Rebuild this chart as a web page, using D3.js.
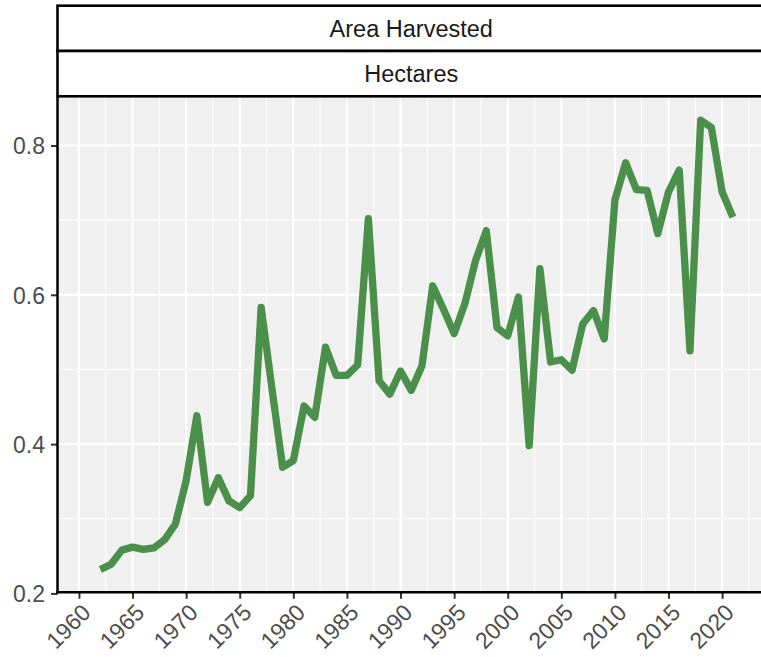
<!DOCTYPE html>
<html>
<head>
<meta charset="utf-8">
<script src="https://cdn.jsdelivr.net/npm/d3@7"></script>
<style>
  html, body { margin: 0; padding: 0; background: #ffffff; }
  svg { display: block; }
  text { font-family: "Liberation Sans", Arial, Helvetica, sans-serif; }
</style>
</head>
<body>
<svg id="chart" width="761" height="657"></svg>
<script>
// ---- data ----
const years = [1962,1963,1964,1965,1966,1967,1968,1969,1970,1971,1972,1973,1974,1975,1976,1977,1978,1979,1980,
  1981,1982,1983,1984,1985,1986,1987,1988,1989,1990,1991,1992,1993,1994,1995,1996,1997,1998,1999,2000,
  2001,2002,2003,2004,2005,2006,2007,2008,2009,2010,2011,2012,2013,2014,2015,2016,2017,2018,2019,2020,2021];
const values = [0.232,0.239,0.258,0.262,0.259,0.261,0.272,0.293,0.351,0.438,0.322,0.355,0.324,0.315,0.331,0.583,0.475,0.369,0.378,
  0.451,0.436,0.530,0.492,0.492,0.506,0.702,0.485,0.467,0.498,0.472,0.505,0.612,0.581,0.548,0.588,0.646,0.686,0.556,0.545,
  0.597,0.398,0.635,0.510,0.513,0.499,0.561,0.579,0.541,0.727,0.777,0.741,0.740,0.682,0.738,0.767,0.525,0.834,0.824,0.738,0.704];
const xTicks = [1960,1965,1970,1975,1980,1985,1990,1995,2000,2005,2010,2015,2020];
const xMinor = [1962.5,1967.5,1972.5,1977.5,1982.5,1987.5,1992.5,1997.5,2002.5,2007.5,2012.5,2017.5,2022.5];
const yTicks = [0.2,0.4,0.6,0.8];
const yMinor = [0.3,0.5,0.7];
const stripLabels = ["Area Harvested","Hectares"];

// ---- layout ----
const svg = d3.select("#chart");
const panel = {left: 57.5, right: 765, top: 97, bottom: 592.3};
const x = d3.scaleLinear().domain([1958, 2024]).range([panel.left, panel.right]);
const y = d3.scaleLinear().domain([0.2015, 0.865]).range([panel.bottom, panel.top]);

// panel background
svg.append("rect")
  .attr("x", panel.left).attr("y", panel.top)
  .attr("width", panel.right - panel.left).attr("height", panel.bottom - panel.top)
  .attr("fill", "#F0F0F0");

const grid = svg.append("g");
grid.selectAll(".ymin").data(yMinor).join("line")
  .attr("x1", panel.left).attr("x2", panel.right)
  .attr("y1", d => y(d)).attr("y2", d => y(d))
  .attr("stroke", "#ffffff").attr("stroke-width", 1.1);
grid.selectAll(".xmin").data(xMinor).join("line")
  .attr("y1", panel.top).attr("y2", panel.bottom)
  .attr("x1", d => x(d)).attr("x2", d => x(d))
  .attr("stroke", "#ffffff").attr("stroke-width", 1.1);
grid.selectAll(".ymaj").data(yTicks).join("line")
  .attr("x1", panel.left).attr("x2", panel.right)
  .attr("y1", d => y(d)).attr("y2", d => y(d))
  .attr("stroke", "#ffffff").attr("stroke-width", 2.2);
grid.selectAll(".xmaj").data(xTicks).join("line")
  .attr("y1", panel.top).attr("y2", panel.bottom)
  .attr("x1", d => x(d)).attr("x2", d => x(d))
  .attr("stroke", "#ffffff").attr("stroke-width", 2.2);

// line
const data = years.map((yr, i) => ({year: yr, value: values[i]}));
const line = d3.line().x(d => x(d.year)).y(d => y(d.value));
svg.append("path")
  .datum(data)
  .attr("d", line)
  .attr("fill", "none")
  .attr("stroke", "#4A8F4A")
  .attr("stroke-width", 7.3)
  .attr("stroke-linejoin", "round")
  .attr("stroke-linecap", "butt");

// axes
const yAxis = d3.axisLeft(y).tickValues(yTicks).tickSize(6.5).tickPadding(6).tickFormat(d3.format(".1f"));
const gy = svg.append("g").attr("transform", `translate(${panel.left},0)`).call(yAxis);
gy.select(".domain").remove();
gy.selectAll(".tick line").attr("stroke", "#333333").attr("stroke-width", 2);
gy.selectAll(".tick text")
  .attr("fill", "#4D4D4D").style("font-size", "23px").attr("dy", "0.36em");

const xAxis = d3.axisBottom(x).tickValues(xTicks).tickSize(6.5).tickFormat(d3.format("d"));
const gx = svg.append("g").attr("transform", `translate(0,${panel.bottom})`).call(xAxis);
gx.select(".domain").remove();
gx.selectAll(".tick line").attr("stroke", "#333333").attr("stroke-width", 2);
gx.selectAll(".tick text")
  .attr("fill", "#4D4D4D").style("font-size", "23px")
  .attr("text-anchor", "end")
  .attr("x", 1).attr("y", 10).attr("dy", "0.72em")
  .attr("transform", "rotate(-45, 1, 10)");

// axis lines
svg.append("line").attr("x1", panel.left).attr("x2", panel.left)
  .attr("y1", panel.top).attr("y2", panel.bottom + 1.2)
  .attr("stroke", "#000").attr("stroke-width", 2.5);
svg.append("line").attr("x1", panel.left - 1.2).attr("x2", panel.right)
  .attr("y1", panel.bottom).attr("y2", panel.bottom)
  .attr("stroke", "#000").attr("stroke-width", 2.5);

// strips
const stripTop = 5.7, stripH = 45.3;
const strips = svg.append("g");
stripLabels.forEach((lab, i) => {
  const top = stripTop + i * stripH;
  strips.append("rect")
    .attr("x", panel.left).attr("y", top)
    .attr("width", panel.right - panel.left + 10).attr("height", stripH)
    .attr("fill", "#ffffff").attr("stroke", "#000").attr("stroke-width", 2.6);
  strips.append("text")
    .attr("x", (panel.left + panel.right) / 2)
    .attr("y", top + stripH / 2)
    .attr("dy", "0.36em")
    .attr("text-anchor", "middle")
    .attr("fill", "#1A1A1A")
    .style("font-size", "23.5px")
    .text(lab);
});
</script>
</body>
</html>
